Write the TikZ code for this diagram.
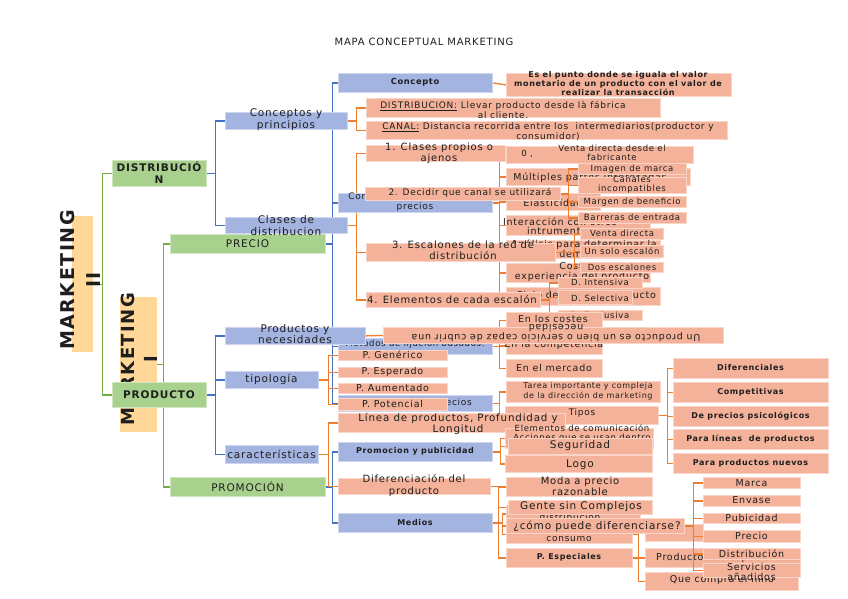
\documentclass[tikz,border=0pt]{standalone}
\usepackage{fontspec}
\setmainfont{DejaVu Sans}[LetterSpace=8]
\pgfdeclarelayer{bg}\pgfdeclarelayer{lower}\pgfdeclarelayer{mid}
\pgfsetlayers{bg,lower,mid,main}
\definecolor{ofill}{RGB}{243,178,153}
\definecolor{bfill}{RGB}{164,180,224}
\definecolor{gfill}{RGB}{169,209,142}
\definecolor{lfill}{RGB}{255,215,153}
\definecolor{oline}{RGB}{237,125,49}
\definecolor{bline}{RGB}{68,114,196}
\definecolor{gline}{RGB}{112,173,71}
\definecolor{tcol}{RGB}{30,30,30}
\newcommand\fs[2]{\fontsize{#1}{#2}\selectfont}
\tikzset{
 obox/.style={fill=ofill, draw=ofill!55!white, line width=0.8pt, inner sep=0},
 bbox/.style={fill=bfill, draw=bfill!55!white, line width=0.8pt, inner sep=0},
 gbox/.style={fill=gfill, draw=gfill!55!white, line width=0.8pt, inner sep=0},
 lbox/.style={fill=lfill, draw=none, inner sep=0},
 txt/.style={align=center, inner sep=0, text=tcol},
 oc/.style={draw=oline, line width=1.3pt},
 bc/.style={draw=bline, line width=1.3pt},
 gc/.style={draw=gline, line width=1.3pt},
}
\newcommand\BX[9]{%
 \node[#1,anchor=north west,minimum width={#5pt-#3pt},minimum height={#6pt-#4pt}] (#2) at (#3,#4) {};%
 \node[txt,#7] (#2t) at #8 {#9};}
\begin{document}
\begin{tikzpicture}[x=1pt,y=-1pt]
\useasboundingbox (0,0) rectangle (848,599);
\begin{pgfonlayer}{bg}
\fill[white] (0,0) rectangle (848,599);
\end{pgfonlayer}

\node[txt,font=\fs{10}{12}] (title) at (424,42) {MAPA CONCEPTUAL MARKETING};

% big labels
\BX{lbox}{mtwo}{72}{216}{93}{352}{font=\fs{19}{26}\bfseries,rotate=90}{(80,280)}{MARKETING\\II}
\BX{lbox}{mone}{120}{297}{157}{432}{font=\fs{18}{23}\bfseries,rotate=90}{(139,359)}{MARKETING\\I}

% green
\BX{gbox}{dist}{112}{160}{206}{186}{font=\fs{10.5}{12}\bfseries}{(159,173)}{DISTRIBUCIÓ\\N}
\BX{gbox}{precio}{170}{234}{325}{253}{font=\fs{10.5}{12}}{(247.5,243.5)}{PRECIO}
\BX{gbox}{producto}{112}{382}{206}{407}{font=\fs{10.5}{12}\bfseries}{(159,394.5)}{PRODUCTO}
\BX{gbox}{promo}{170}{477}{325}{496}{font=\fs{10.5}{12}}{(247.5,486.5)}{PROMOCIÓN}

% blue
\BX{bbox}{concepto}{338}{73}{492}{92}{font=\fs{8.3}{9}\bfseries}{(415,82.5)}{Concepto}
\BX{bbox}{consid}{338}{193}{492}{212}{font=\fs{9}{10.5}}{(415,202)}{Consideraciones para fijar\\precios}
\BX{bbox}{metodos}{338}{338}{492}{354}{font=\fs{8.5}{10}}{(415,344)}{Metodos de fijación basados:}
\BX{bbox}{estrat}{338}{395}{492}{411}{font=\fs{9}{10}}{(415,403)}{Estrategias de precios}
\BX{bbox}{concp}{225}{112}{347}{129}{font=\fs{10.5}{12}}{(286,120)}{Conceptos y\\principios}
\BX{bbox}{clases}{225}{217}{347}{233}{font=\fs{10.5}{12}}{(286,225.5)}{Clases de\\distribucion}
\BX{bbox}{prodnec}{225}{327}{365}{344}{font=\fs{10.5}{11}}{(295,334.5)}{Productos y\\necesidades}
\BX{bbox}{tipo}{225}{371}{318}{388}{font=\fs{10.5}{12}}{(271.5,379.5)}{tipología}
\BX{bbox}{caract}{225}{445}{318}{463}{font=\fs{10.5}{12}}{(271.5,454)}{características}
\BX{bbox}{promopub}{338}{442}{492}{461}{font=\fs{8}{9}\bfseries}{(415,451.5)}{Promocion y publicidad}
\BX{bbox}{medios}{338}{513}{492}{532}{font=\fs{8}{9}\bfseries}{(415,522.5)}{Medios}

% orange
\BX{obox}{esel}{506}{73}{731}{96}{font=\fs{8}{8.8}\bfseries}{(618,83.5)}{Es el punto donde se iguala el valor\\monetario de un producto con el valor de\\realizar la transacción}
\BX{obox}{distdef}{366}{98}{660}{117}{font=\fs{9}{8.5}}{(503,110)}{\underline{DISTRIBUCION:} Llevar producto desde là fábrica\\al cliente.}
\BX{obox}{canal}{366}{121}{727}{139}{font=\fs{9}{10}}{(548,132)}{\underline{CANAL:} Distancia recorrida entre los~ intermediarios(productor y\\consumidor)}

\begin{pgfonlayer}{lower}
\BX{obox}{vdfab}{506}{146}{693}{163}{font=\fs{8.5}{9}}{(612,153)}{Venta directa desde el\\fabricante}
\node[txt,font=\fs{8.5}{9}] (zero) at (527,154) {0 ,};
\BX{obox}{mult}{506}{168}{690}{185}{font=\fs{9.5}{11}}{(590,178)}{Múltiples partes interesadas}
\BX{obox}{elast}{506}{193}{600}{210}{font=\fs{9.5}{11}}{(553,203)}{Elasticidad}
\BX{obox}{inter}{506}{215}{650}{235}{font=\fs{9.5}{9}}{(560,226)}{Interacción con otros\\intrumentos}
\BX{obox}{anal}{506}{240}{660}{258}{font=\fs{9.5}{9.5}}{(584,249)}{Análisis para determinar la\\demanda}
\BX{obox}{costes}{506}{263}{650}{282}{font=\fs{9.5}{10}}{(582,272)}{Costes y\\experiencia del producto}
\BX{obox}{ciclo}{506}{287}{660}{305}{font=\fs{9.5}{11}}{(586,296)}{Ciclo de vida del producto}
\BX{obox}{ncbox}{645}{524}{703}{541}{}{(674,532)}{}
\BX{obox}{prodbox}{645}{548}{800}{567}{font=\fs{9.5}{11},anchor=west}{(656,558)}{Productos de especialidad}
\BX{obox}{quecompra}{645}{572}{798}{590}{font=\fs{9.5}{11}}{(722,580)}{Que compra el niño}
\end{pgfonlayer}

\BX{obox}{cone}{366}{145}{505}{161}{font=\fs{10}{11}}{(439,153.5)}{1. Clases propios o\\ajenos}
\BX{obox}{ctwo}{365}{187}{560}{200}{font=\fs{9}{10}}{(470,193)}{2. Decidir que canal se utilizará}
\BX{obox}{cthree}{366}{243}{555}{261}{font=\fs{10}{10.5}}{(463,250.5)}{3. Escalones de la red de\\distribución}
\BX{obox}{cfour}{366}{292}{540}{307}{font=\fs{10}{11}}{(452,299.5)}{4. Elementos de cada escalón}

\BX{obox}{imagen}{578}{163}{686}{174}{font=\fs{8.5}{9}}{(632,169)}{Imagen de marca}
\BX{obox}{canales}{578}{177}{686}{193}{font=\fs{8.5}{9.5}}{(632,184.5)}{Canales\\incompatibles}
\BX{obox}{margen}{578}{196}{686}{207}{font=\fs{8.5}{9}}{(632,202)}{Margen de beneficio}
\BX{obox}{barreras}{578}{212}{686}{223}{font=\fs{8.5}{9}}{(632,217.5)}{Barreras de entrada}
\BX{obox}{vdir}{580}{228}{663}{239}{font=\fs{8.5}{9}}{(622,233.5)}{Venta directa}
\BX{obox}{unsolo}{580}{245}{663}{257}{font=\fs{8.5}{9}}{(622,251)}{Un solo escalón}
\BX{obox}{dosesc}{580}{262}{663}{272}{font=\fs{8.5}{9}}{(622,267)}{Dos escalones}
\BX{obox}{dint}{558}{277}{642}{288}{font=\fs{8.5}{9}}{(600,282.5)}{D. Intensiva}
\BX{obox}{dsel}{558}{290}{632}{304}{font=\fs{8.5}{9}}{(600,298)}{D. Selectiva}
\BX{obox}{dexc}{558}{310}{642}{320}{font=\fs{8.5}{9}}{(600,315)}{D. Exclusiva}

\BX{obox}{costesb}{506}{312}{602}{328}{font=\fs{9.5}{11}}{(553,319)}{En los costes}
\BX{obox}{comp}{506}{337}{602}{354}{font=\fs{9.5}{11}}{(554,345)}{En la competencia}
\BX{obox}{mercado}{506}{359}{602}{377}{font=\fs{9.5}{11}}{(554,368)}{En el mercado}

\BX{obox}{updown}{383}{327}{723}{343}{font=\fs{9.5}{10},rotate=180}{(556,333.5)}{Un producto es un bien o servicio capaz de cubrir una\\necesidad}

\BX{obox}{pgen}{338}{350}{447}{360}{font=\fs{9.5}{11}}{(392.5,355)}{P. Genérico}
\BX{obox}{pespe}{338}{367}{447}{377}{font=\fs{9.5}{11}}{(392.5,372)}{P. Esperado}
\BX{obox}{paum}{338}{383}{447}{393}{font=\fs{9.5}{11}}{(392.5,388)}{P. Aumentado}
\BX{obox}{ppot}{338}{398}{447}{410}{font=\fs{9.5}{11}}{(392.5,404)}{P. Potencial}

\BX{obox}{tarea}{506}{381}{660}{402}{font=\fs{8}{10.5}}{(588,391.5)}{Tarea importante y compleja\\de la dirección de marketing}
\BX{obox}{tipos}{505}{406}{658}{424}{font=\fs{9}{10}}{(582,413)}{Tipos}
\BX{obox}{dif}{673}{358}{828}{378}{font=\fs{8}{9}\bfseries}{(750.5,368)}{Diferenciales}
\BX{obox}{compt}{673}{382}{828}{402}{font=\fs{8}{9}\bfseries}{(750.5,392)}{Competitivas}
\BX{obox}{psic}{673}{406}{828}{426}{font=\fs{8}{9}\bfseries}{(750.5,416)}{De precios psicológicos}
\BX{obox}{lineas}{673}{429}{828}{449}{font=\fs{8}{9}\bfseries}{(750.5,439)}{Para líneas~ de productos}
\BX{obox}{nuevos}{673}{453}{828}{473}{font=\fs{8}{9}\bfseries}{(750.5,463)}{Para productos nuevos}

\BX{obox}{linea}{338}{413}{565}{432}{font=\fs{10.3}{11}}{(458,423.5)}{Línea de productos, Profundidad y\\Longitud}
\BX{obox}{difprod}{338}{478}{490}{494}{font=\fs{10}{12}}{(414,486)}{Diferenciación del\\producto}

\BX{obox}{objcom}{505}{428}{653}{448}{font=\fs{8.5}{9}}{(582,433.5)}{Elementos de comunicación\\Acciones que se usan dentro}
\BX{obox}{segur}{508}{438}{652}{454}{font=\fs{10.5}{12}}{(580,445.5)}{Seguridad}
\BX{obox}{logo}{505}{455}{652}{472}{font=\fs{10.5}{12}}{(580,464.5)}{Logo}

\BX{obox}{moda}{506}{477}{652}{496}{font=\fs{10}{11}}{(580,486)}{Moda a precio\\razonable}
\BX{obox}{distbox}{506}{505}{640}{522}{font=\fs{9}{10}}{(570,512)}{Canales de\\distribución}
\BX{obox}{gente}{508}{500}{652}{514}{font=\fs{10.5}{12}}{(581,507)}{Gente sin Complejos}
\BX{obox}{consumo}{506}{525}{632}{543}{font=\fs{9}{10}}{(569,533)}{Productos de\\consumo}
\BX{obox}{como}{506}{518}{684}{533}{font=\fs{10.5}{12}}{(597,526)}{¿cómo puede diferenciarse?}
\BX{obox}{pespec}{506}{548}{632}{567}{font=\fs{8}{9}\bfseries}{(569,557.5)}{P. Especiales}

\BX{obox}{marca}{703}{477}{800}{488}{font=\fs{9.5}{11}}{(751.5,483)}{Marca}
\BX{obox}{envase}{703}{495}{800}{506}{font=\fs{9.5}{11}}{(751.5,500.5)}{Envase}
\BX{obox}{pubi}{703}{513}{800}{523}{font=\fs{9.5}{11}}{(751.5,517.5)}{Pubicidad}
\BX{obox}{preciob}{703}{530}{800}{542}{font=\fs{9.5}{11}}{(751.5,536)}{Precio}
\BX{obox}{distrib}{703}{548}{800}{559}{font=\fs{9.5}{11}}{(751.5,554)}{Distribución}
\BX{obox}{servicios}{703}{563}{800}{577}{font=\fs{9.5}{10}}{(751.5,572)}{Servicios\\añadidos}

% connectors under boxes
\begin{pgfonlayer}{bg}
\draw[gc] (mtwo.east) -- ++(9,0) |- (dist.west);
\draw[gc] (mtwo.east) -- ++(9,0) |- (producto.west);
\draw[gc] (mone.east) -- ++(6,0) |- (precio.west);
\draw[gc] (mone.east) -- ++(6,0) |- (promo.west);
\foreach \c in {concp,clases} \draw[bc] (dist.east) -- ++(9,0) |- (\c.west);
\foreach \c in {concepto,consid,metodos,estrat} \draw[bc] (precio.east) -- ++(6.5,0) |- (\c.west);
\foreach \c in {prodnec,tipo,caract} \draw[bc] (producto.east) -- ++(9,0) |- (\c.west);
\foreach \c in {promopub,medios} \draw[bc] (promo.east) -- ++(7,0) |- (\c.west);
\draw[oc] (concepto.east) -- (esel.west);
\foreach \c in {distdef,canal} \draw[oc] (concp.east) -- ++(9,0) |- (\c.west);
\foreach \c in {cone,ctwo,cthree,cfour} \draw[oc] (clases.east) -- ++(9,0) |- (\c.west);
\foreach \c in {vdfab,mult,elast,inter,anal,costes,ciclo} \draw[oc] (consid.east) -- ++(7,0) |- (\c.west);
\foreach \c in {costesb,comp,mercado} \draw[oc] (metodos.east) -- ++(7,0) |- (\c.west);
\foreach \c in {tarea,tipos} \draw[oc] (estrat.east) -- ++(7,0) |- (\c.west);
\foreach \c in {dif,compt,psic,lineas,nuevos} \draw[oc] (tipos.east) -- ++(9,0) |- (\c.west);
\draw[oc] (prodnec.east) -- (updown.west);
\foreach \c in {pgen,pespe,paum,ppot} \draw[oc] (tipo.east) -- ++(10,0) |- (\c.west);
\foreach \c in {linea,difprod} \draw[oc] (caract.east) -- ++(9.5,0) |- (\c.west);
\foreach \c in {objcom,segur,logo} \draw[oc] (promopub.east) -- ++(8,0) |- (\c.west);
\foreach \c in {moda,gente,pespec} \draw[oc] (difprod.east) -- ++(8,0) |- (\c.west);
\foreach \c in {distbox,como,consumo} \draw[oc] (medios.east) -- ++(10,0) |- (\c.west);
\foreach \c in {prodbox,quecompra} \draw[oc] (pespec.east) -- ++(6,0) |- (\c.west);
\draw[oc] (consumo.east) -- ++(6,0) |- (prodbox.west);
\end{pgfonlayer}

% connectors drawn over lower boxes
\begin{pgfonlayer}{mid}
\foreach \c in {imagen,canales,margen,barreras} \draw[oc] (ctwo.east) -- ++(8,0) |- (\c.west);
\foreach \c in {vdir,unsolo,dosesc} \draw[oc] (cthree.east) -- ++(19,0) |- (\c.west);
\foreach \c in {dint,dsel,dexc} \draw[oc] (cfour.east) -- ++(9,0) |- (\c.west);
\foreach \c in {marca,envase,pubi,preciob,distrib,servicios} \draw[oc] (como.east) -- ++(9,0) |- (\c.west);
\end{pgfonlayer}
\end{tikzpicture}
\end{document}
